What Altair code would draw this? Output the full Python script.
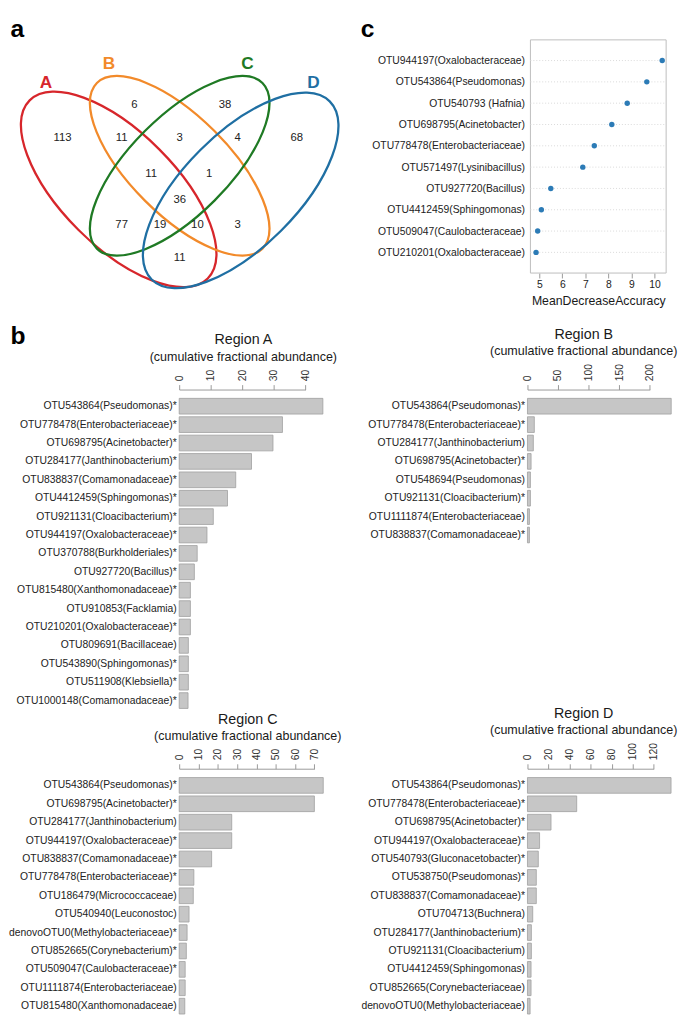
import altair as alt
import pandas as pd

FONT = "Liberation Sans, Arial, sans-serif"

# ---------------- Panel a : Venn diagram ----------------
venn_sets = ["A", "B", "C", "D"]
venn_colors = ["#d7262b", "#f28a2a", "#1f7a24", "#1f6fa3"]
venn_regions = ["A", "B", "C", "D", "AB", "BC", "CD", "ABC", "BCD", "ABCD",
                "AC", "ACD", "ABD", "BD", "AD"]
venn_counts = [113, 6, 38, 68, 11, 3, 4, 11, 1, 36, 77, 19, 10, 3, 11]

# layout of the diagram (pixel geometry of the drawing)
ell_cx = [112, 174, 174, 236]
ell_cy = [180, 156, 156, 181]
ell_a = [128, 119, 119, 128]
ell_b = [58, 50, 50, 58]
ell_angle = [45, 45, 135, 135]
set_lab_x = [38, 102, 243, 310]
set_lab_y = [72, 53, 53, 72]
cnt_x = [55, 128, 220, 293, 115, 174, 233, 145, 204, 174, 115, 154, 192, 233, 174]
cnt_y = [128, 94, 94, 128, 128, 128, 128, 164, 164, 191, 216, 216, 216, 216, 250]

K = 0.5523


def ellipse_path(r):
    return (f"M 1 0 C 1 {K*r:.4f} {K:.4f} {r:.4f} 0 {r:.4f} "
            f"C {-K:.4f} {r:.4f} -1 {K*r:.4f} -1 0 "
            f"C -1 {-K*r:.4f} {-K:.4f} {-r:.4f} 0 {-r:.4f} "
            f"C {K:.4f} {-r:.4f} 1 {-K*r:.4f} 1 0 Z")


ell_df = pd.DataFrame({
    "set": venn_sets, "cx": ell_cx, "cy": ell_cy, "ang": ell_angle,
    "shape": [ellipse_path(b / a) for a, b in zip(ell_a, ell_b)],
    "size": [(2 * a) ** 2 for a in ell_a], "color": venn_colors,
})
setlab_df = pd.DataFrame({"set": venn_sets, "x": set_lab_x, "y": set_lab_y, "color": venn_colors})
cnt_df = pd.DataFrame({"region": venn_regions, "n": venn_counts, "x": cnt_x, "y": cnt_y})
panel_df = pd.DataFrame({"lab": ["a", "b", "c"], "x": [2, 2, 358], "y": [25, 337, 25]})

ROW_GAP = 51.4
COL_GAP = 182
VX0, VX1, VY0 = 173.5, 345, 28
VY1 = 383 - ROW_GAP
xs = alt.Scale(domain=[VX0, VX1], nice=False, zero=False)
ys = alt.Scale(domain=[VY1, VY0], nice=False, zero=False)

ellipses = alt.Chart(ell_df).mark_point(filled=False, strokeWidth=2.3, opacity=1).encode(
    x=alt.X("cx:Q", scale=xs, axis=None),
    y=alt.Y("cy:Q", scale=ys, axis=None),
    angle=alt.Angle("ang:Q", scale=None),
    shape=alt.Shape("shape:N", scale=None),
    size=alt.Size("size:Q", scale=None),
    stroke=alt.Stroke("color:N", scale=None),
)
setlabs = alt.Chart(setlab_df).mark_text(fontSize=17.5, fontWeight="bold").encode(
    x=alt.X("x:Q", scale=xs, axis=None), y=alt.Y("y:Q", scale=ys, axis=None),
    text="set:N", color=alt.Color("color:N", scale=None))
counts = alt.Chart(cnt_df).mark_text(fontSize=11.5, color="#222222").encode(
    x=alt.X("x:Q", scale=xs, axis=None), y=alt.Y("y:Q", scale=ys, axis=None), text="n:Q")
panels = alt.Chart(panel_df).mark_text(fontSize=25, fontWeight="bold", align="left",
                                       baseline="alphabetic", color="#000000").encode(
    x=alt.X("x:Q", scale=xs, axis=None), y=alt.Y("y:Q", scale=ys, axis=None), text="lab:N")

venn = alt.layer(ellipses, setlabs, counts, panels).properties(width=VX1 - VX0, height=VY1 - VY0)

# ---------------- Panel c : MeanDecreaseAccuracy ----------------
mda_otus = ["OTU944197(Oxalobacteraceae)", "OTU543864(Pseudomonas)", "OTU540793 (Hafnia)",
            "OTU698795(Acinetobacter)", "OTU778478(Enterobacteriaceae)", "OTU571497(Lysinibacillus)",
            "OTU927720(Bacillus)", "OTU4412459(Sphingomonas)", "OTU509047(Caulobacteraceae)",
            "OTU210201(Oxalobacteraceae)"]
mda_values = [10.34, 9.67, 8.82, 8.15, 7.39, 6.89, 5.50, 5.09, 4.93, 4.86]
mda_ticks = [5, 6, 7, 8, 9, 10]
mda_frame = [4.615, 10.51]

COL2_X = VX1 + COL_GAP          # left edge of the right column
PX_C = 23.4                     # px per unit in panel c
c_lo = mda_frame[0] - (530 - COL2_X) / PX_C
c_width = (mda_frame[1] - c_lo) * PX_C
C_H = 237

mda_df = pd.DataFrame({"otu": mda_otus, "mda": mda_values,
                       "x0": mda_frame[0], "x1": mda_frame[1]})
frame_df = pd.DataFrame({"x0": [mda_frame[0]], "x1": [mda_frame[1]]})
cx_scale = alt.Scale(domain=[c_lo, mda_frame[1]], nice=False, zero=False)
cy_scale = alt.Scale(type="point", padding=0.97)
c_xaxis = alt.Axis(values=mda_ticks, tickCount=6, title="MeanDecreaseAccuracy", titleFontSize=12.5,
                   titleFontWeight="normal", titleColor="#1a1a1a", titlePadding=4,
                   titleX=(mda_frame[0] + mda_frame[1]) / 2 * PX_C - c_lo * PX_C,
                   labelFontSize=10.5, labelColor="#222222", labelPadding=2,
                   labelFlush=False, labelOverlap=False, tickSize=5, tickColor="#999999",
                   domain=False, grid=False)
c_yaxis = alt.Axis(title=None, ticks=False, domain=False, labelPadding=3,
                   labelFontSize=10.5, labelColor="#222222", labelLimit=400, grid=False)

dots_c = alt.Chart(mda_df).mark_point(filled=True, size=30, color="#2c7bb6", opacity=1).encode(
    x=alt.X("mda:Q", scale=cx_scale, axis=c_xaxis),
    y=alt.Y("otu:N", sort=mda_otus, scale=cy_scale, axis=c_yaxis),
)
grid_c = alt.Chart(mda_df).mark_rule(strokeDash=[1, 2], color="#d9d9d9", strokeWidth=1).encode(
    y=alt.Y("otu:N", sort=mda_otus, scale=cy_scale, axis=c_yaxis),
    x=alt.X("x0:Q", scale=cx_scale, axis=c_xaxis), x2="x1:Q",
)
frame_c = alt.Chart(frame_df).mark_rect(fillOpacity=0, stroke="#bdbdbd", strokeWidth=1).encode(
    x=alt.X("x0:Q", scale=cx_scale, axis=c_xaxis), x2="x1:Q",
    y=alt.value(0), y2=alt.value(C_H))
dot = alt.layer(frame_c, grid_c, dots_c).properties(width=c_width, height=C_H)

# ---------------- Panel b : regions ----------------
regA_otus = ["OTU543864(Pseudomonas)*", "OTU778478(Enterobacteriaceae)*", "OTU698795(Acinetobacter)*",
             "OTU284177(Janthinobacterium)*", "OTU838837(Comamonadaceae)*", "OTU4412459(Sphingomonas)*",
             "OTU921131(Cloacibacterium)*", "OTU944197(Oxalobacteraceae)*", "OTU370788(Burkholderiales)*",
             "OTU927720(Bacillus)*", "OTU815480(Xanthomonadaceae)*", "OTU910853(Facklamia)",
             "OTU210201(Oxalobacteraceae)*", "OTU809691(Bacillaceae)", "OTU543890(Sphingomonas)*",
             "OTU511908(Klebsiella)*", "OTU1000148(Comamonadaceae)*"]
regA_values = [45.5, 32.7, 29.7, 22.9, 17.9, 15.3, 10.8, 8.8, 5.7, 4.8, 3.55, 3.55, 3.55, 2.9, 2.9, 2.9, 2.8]
regA_ticks = [0, 10, 20, 30, 40]

regB_otus = ["OTU543864(Pseudomonas)*", "OTU778478(Enterobacteriaceae)*", "OTU284177(Janthinobacterium)",
             "OTU698795(Acinetobacter)*", "OTU548694(Pseudomonas)", "OTU921131(Cloacibacterium)*",
             "OTU1111874(Enterobacteriaceae)", "OTU838837(Comamonadaceae)*"]
regB_values = [235, 11.2, 9.6, 5.9, 4.8, 4.8, 3.2, 3.2]
regB_ticks = [0, 50, 100, 150, 200]

regC_otus = ["OTU543864(Pseudomonas)*", "OTU698795(Acinetobacter)*", "OTU284177(Janthinobacterium)",
             "OTU944197(Oxalobacteraceae)*", "OTU838837(Comamonadaceae)*", "OTU778478(Enterobacteriaceae)*",
             "OTU186479(Micrococcaceae)", "OTU540940(Leuconostoc)", "denovoOTU0(Methylobacteriaceae)*",
             "OTU852665(Corynebacterium)*", "OTU509047(Caulobacteraceae)*", "OTU1111874(Enterobacteriaceae)",
             "OTU815480(Xanthomonadaceae)"]
regC_values = [74.6, 70.0, 27.2, 27.2, 16.8, 7.6, 7.3, 5.1, 4.1, 3.7, 3.1, 3.1, 2.9]
regC_ticks = [0, 10, 20, 30, 40, 50, 60, 70]

regD_otus = ["OTU543864(Pseudomonas)*", "OTU778478(Enterobacteriaceae)*", "OTU698795(Acinetobacter)*",
             "OTU944197(Oxalobacteraceae)*", "OTU540793(Gluconacetobacter)*", "OTU538750(Pseudomonas)*",
             "OTU838837(Comamonadaceae)*", "OTU704713(Buchnera)", "OTU284177(Janthinobacterium)*",
             "OTU921131(Cloacibacterium)", "OTU4412459(Sphingomonas)", "OTU852665(Corynebacteriaceae)",
             "denovoOTU0(Methylobacteriaceae)"]
regD_values = [136.5, 46.8, 22.4, 11.5, 10.3, 8.4, 8.4, 5.0, 3.7, 3.7, 3.4, 3.4, 2.5]
regD_ticks = [0, 20, 40, 60, 80, 100, 120]

STEP = 18.7
P_IN = 0.147
P_OUT = 0.48


def region_chart(name, otus, values, ticks, px_per_unit, dx):
    df = pd.DataFrame({"otu": otus, "value": values})
    dmax = ticks[-1]
    height = STEP * (len(otus) - P_IN + 2 * P_OUT)
    return alt.Chart(df).mark_bar(fill="#c6c6c6", stroke="#a0a0a0", strokeWidth=0.8).encode(
        x=alt.X("value:Q", scale=alt.Scale(domain=[0, dmax], nice=False, zero=True),
                axis=alt.Axis(orient="top", values=ticks, title=None, labelAngle=270,
                              labelAlign="left", labelBaseline="middle", labelFontSize=10.5,
                              labelColor="#333333", labelPadding=4, labelFlush=False,
                              labelOverlap=False, tickSize=5, tickColor="#999999",
                              domainColor="#999999", grid=False)),
        y=alt.Y("otu:N", sort=otus,
                scale=alt.Scale(paddingInner=P_IN, paddingOuter=P_OUT),
                axis=alt.Axis(title=None, ticks=False, domain=False, labelPadding=3,
                              labelFontSize=10.5, labelColor="#222222", labelLimit=400)),
    ).properties(
        width=dmax * px_per_unit, height=height,
        title=alt.TitleParams(text=name, subtitle="(cumulative fractional abundance)",
                              fontSize=14.5, fontWeight="normal", subtitleFontSize=12.7,
                              color="#1a1a1a", subtitleColor="#1a1a1a", anchor="middle",
                              frame="group", dx=dx, offset=5, subtitlePadding=3))


regA = region_chart("Region A", regA_otus, regA_values, regA_ticks, 3.21, 1)
regB = region_chart("Region B", regB_otus, regB_values, regB_ticks, 0.6217, -5)
regC = region_chart("Region C", regC_otus, regC_values, regC_ticks, 1.963, 1)
regD = region_chart("Region D", regD_otus, regD_values, regD_ticks, 1.069, -7)

chart = alt.concat(
    venn, dot, regA, regB, regC, regD,
    columns=2, bounds="flush", align="each",
    spacing={"row": ROW_GAP, "column": COL_GAP},
).properties(padding=0).configure(font=FONT).configure_view(
    stroke="transparent"
).configure_axisX(labelOverlap=False, labelFlush=False)

chart.save("out.html", embed_options={"renderer": "svg", "actions": False})
